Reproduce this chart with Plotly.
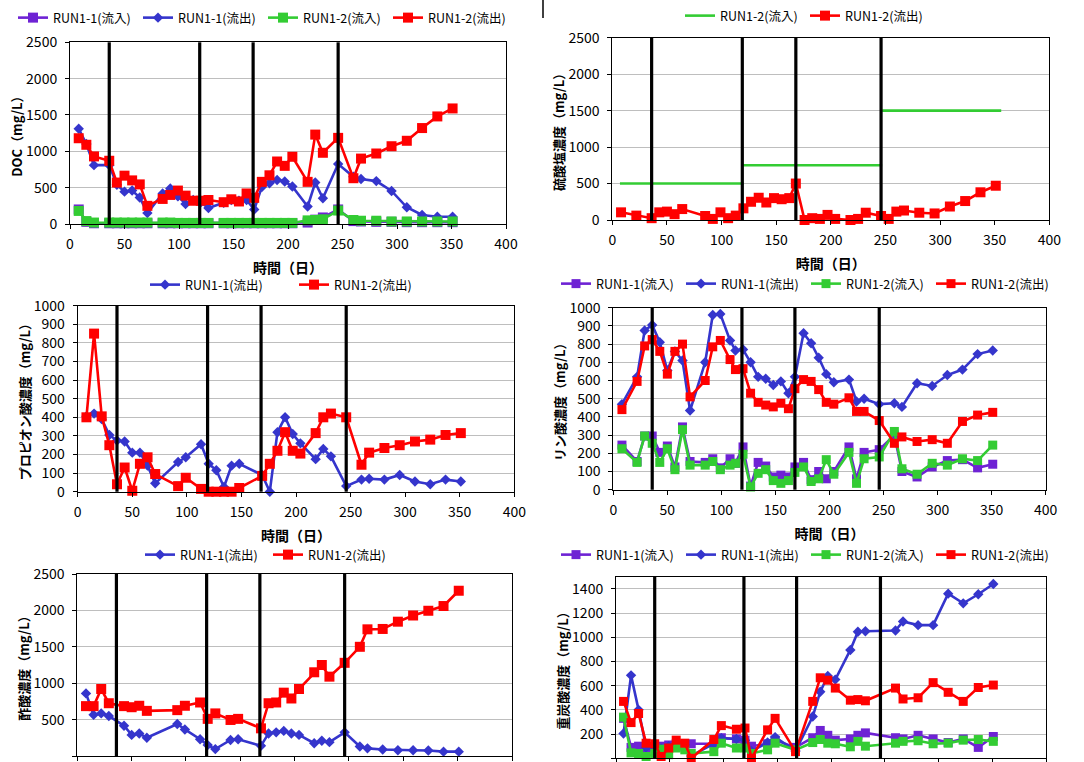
import plotly.graph_objects as go

W, H = 1084, 762
FONT = "Noto Sans CJK JP"

# ---------------- data ----------------
# Panel 1: DOC
doc_days = [8, 15, 22, 36, 43, 50, 57, 64, 71, 85, 92, 99, 106, 113, 120, 127, 141, 148, 155, 162,
            169, 176, 183, 190, 197, 204, 218, 225, 232, 246, 260, 267, 281, 295, 309, 323, 337, 351]
doc_r11_in = [200, 30, 10, 10, 10, 10, 10, 10, 10, 10, 10, 10, 10, 10, 10, 10, 10, 10, 10, 10,
              10, 10, 10, 10, 10, 10, 20, 60, 90, 200, 40, 35, 30, 30, 25, 25, 25, 25]
doc_r11_out = [1310, 1100, 810, 810, 540, 445, 460, 365, 150, 420, 490, 380, 275, 330, 300, 220, 290, 330, 320, 330,
               200, 510, 560, 605, 585, 515, 240, 570, 355, 825, 650, 620, 590, 455, 230, 125, 100, 100]
doc_r12_in = [180, 40, 20, 20, 20, 20, 20, 20, 20, 20, 20, 15, 15, 15, 15, 15, 15, 15, 15, 15,
              15, 15, 15, 15, 15, 15, 50, 55, 65, 185, 55, 45, 45, 35, 35, 35, 35, 35]
doc_r12_out = [1180, 1090, 930, 870, 570, 665, 600, 545, 250, 345, 400, 460, 390, 320, 320, 330, 300, 340, 310, 420,
               360, 580, 670, 860, 800, 925, 580, 1230, 980, 1185, 630, 900, 970, 1070, 1145, 1320, 1480, 1590]

# Panel 2: sulfate
sul_in_days = [7, 120, None, 119, 247, None, 247, 356]
sul_in_vals = [500, 500, None, 750, 750, None, 1500, 1500]
sul_days = [8, 22, 36, 43, 50, 57, 64, 85, 92, 99, 106, 113, 120, 127, 134, 141, 148, 155, 162, 168,
            176, 183, 190, 197, 204, 218, 225, 232, 246, 253, 260, 267, 281, 295, 309, 323, 337, 351]
sul_r12_out = [105, 60, 25, 105, 115, 80, 150, 55, 15, 105, 25, 60, 160, 250, 305, 240, 300, 285, 300, 500,
               0, 25, 15, 70, 15, 0, 15, 100, 55, 15, 115, 130, 100, 90, 185, 260, 380, 470]

# Panel 3: propionic acid
pro_days = [8, 15, 22, 29, 36, 43, 50, 57, 64, 71, 92, 99, 113, 120, 127, 134, 141, 148, 169, 176,
            183, 190, 197, 204, 218, 225, 232, 246, 260, 267, 281, 295, 309, 323, 337, 351]
pro_r11_out = [405, 420, 390, 305, 275, 270, 210, 210, 140, 45, 160, 185, 255, 150, 115, 25, 140, 150, 90, 0,
               320, 400, 310, 260, 175, 230, 190, 30, 65, 70, 65, 90, 55, 40, 65, 55]
pro_r12_out = [400, 850, 405, 250, 40, 130, 5, 150, 185, 95, 30, 75, 15, 0, 0, 0, 0, 20, 85, 150,
               220, 320, 220, 205, 315, 400, 420, 400, 145, 210, 235, 250, 270, 280, 305, 315]

# Panel 4: phosphate
pho_days = [8, 22, 29, 36, 43, 50, 57, 64, 71, 85, 92, 99, 108, 113, 120, 127, 134, 141, 148, 155,
            162, 168, 176, 183, 190, 197, 204, 218, 225, 232, 246, 260, 267, 281, 295, 309, 323, 337, 351]
pho_r11_in = [245, 155, 295, 295, 205, 240, 125, 345, 155, 150, 170, 120, 170, 145, 235, 20, 150, 130, 70, 80,
              70, 125, 150, 55, 100, 60, 100, 235, 60, 205, 220, 300, 100, 70, 125, 160, 165, 120, 140]
pho_r11_out = [470, 620, 875, 905, 810, 655, 760, 710, 435, 700, 960, 965, 820, 765, 770, 700, 620, 610, 575, 595,
               530, 620, 860, 805, 725, 635, 590, 605, 485, 500, 470, 475, 455, 585, 570, 630, 660, 745, 765]
pho_r12_in = [225, 150, 295, 255, 150, 225, 110, 330, 135, 135, 155, 110, 135, 145, 195, 15, 90, 110, 50, 35,
              50, 95, 125, 45, 60, 165, 85, 205, 35, 170, 180, 320, 115, 85, 145, 135, 170, 160, 245]
pho_r12_out = [440, 595, 790, 825, 760, 635, 760, 800, 510, 600, 785, 820, 715, 660, 665, 530, 480, 465, 455, 475,
               445, 555, 605, 595, 550, 480, 470, 505, 430, 430, 380, 255, 290, 265, 275, 255, 375, 410, 425]

# Panel 5: acetic acid
ace_days = [8, 15, 22, 29, 43, 50, 57, 64, 92, 99, 113, 120, 127, 141, 148, 169, 176, 183, 190, 197,
            204, 218, 225, 232, 246, 260, 267, 281, 295, 309, 323, 337, 351]
ace_r11_out = [860, 565, 585, 550, 415, 290, 310, 250, 440, 365, 230, 150, 95, 220, 230, 140, 310, 325, 345, 310,
               290, 175, 210, 190, 325, 130, 105, 90, 80, 80, 75, 60, 60]
ace_r12_out = [685, 685, 920, 725, 685, 670, 690, 620, 630, 690, 735, 510, 585, 495, 510, 380, 725, 735, 870, 790,
               920, 1150, 1250, 1090, 1280, 1500, 1740, 1745, 1845, 1930, 1995, 2060, 2270]

# Panel 6: bicarbonate
bic_days = [7, 14, 21, 28, 36, 42, 49, 56, 64, 70, 91, 98, 112, 120, 126, 141, 148, 167, 183, 190,
            197, 204, 218, 225, 232, 260, 267, 281, 295, 309, 323, 337, 351]
bic_r11_in = [330, 90, 100, 80, 90, 100, 110, 120, 100, 120, 120, 170, 160, 150, 100, 120, 150, 90, 170, 230,
              190, 150, 160, 190, 210, 170, 160, 190, 160, 130, 160, 90, 180]
bic_r11_out = [205, 685, 400, 90, 70, 80, 100, 120, 110, 20, 120, 165, 160, 150, 60, 130, 175, 60, 345, 550,
               680, 650, 895, 1045, 1050, 1055, 1130, 1100, 1100, 1360, 1280, 1355, 1440]
bic_r12_in = [340, 45, 40, 15, 40, 75, 30, 85, 70, 40, 55, 125, 85, 85, 40, 70, 125, 70, 130, 155,
              125, 120, 95, 140, 100, 125, 140, 145, 120, 125, 150, 155, 140]
bic_r12_out = [470, 295, 370, 125, 120, 15, 85, 150, 125, 0, 155, 270, 240, 250, 0, 235, 330, 55, 470, 665,
               645, 580, 480, 485, 475, 580, 490, 500, 625, 545, 470, 585, 605]

event_days = [36, 119, 168, 246]

N11_IN, N11_OUT, N12_IN, N12_OUT = "RUN1-1(流入)", "RUN1-1(流出)", "RUN1-2(流入)", "RUN1-2(流出)"
X_TITLE = "時間（日）"
PURPLE, BLUE, GREEN, RED = "#6E22D4", "#3535CC", "#33CC33", "#FF0000"

# ---------------- layout geometry (pixels) ----------------
panels = [
    dict(px=(70, 506), py=(42.3, 224), ymax=2500, dy=500, yt="DOC（mg/L）", leg=(263, 18), ew=80, xlab=True),
    dict(px=(612.3, 1049.3), py=(37.7, 220), ymax=2500, dy=500, yt="硫酸塩濃度（mg/L）", leg=(805, 16), ew=80, xlab=True),
    dict(px=(77.7, 514.3), py=(305.7, 491.7), ymax=1000, dy=100, yt="プロピオン酸濃度（mg/L）", leg=(294, 285), ew=104, xlab=True),
    dict(px=(613.3, 1045.7), py=(307.7, 489.7), ymax=1000, dy=100, yt="リン酸濃度（mg/L）", leg=(806, 284), ew=80, xlab=True),
    dict(px=(77.3, 512), py=(574, 756), ymax=2500, dy=500, yt="酢酸濃度（mg/L）", leg=(268, 555), ew=83, xlab=False),
    dict(px=(616, 1046), py=(576.7, 758.3), ymax=1500, dy=200, yt="重炭酸濃度（mg/L）", leg=(806, 555), ew=80, xlab=False),
]

fig = go.Figure()


def ax(i, letter):
    return letter if i == 1 else f"{letter}{i}"


def add(i, x, y, name, color, symbol=None, size=9, lines_only=False):
    fig.add_trace(go.Scatter(
        x=x, y=y, name=name,
        mode="lines" if lines_only else "lines+markers",
        line=dict(color=color, width=2.6),
        marker=dict(symbol=symbol, size=size, color=color),
        xaxis=ax(i, "x"), yaxis=ax(i, "y"),
        legend="legend" if i == 1 else f"legend{i}",
        cliponaxis=False, connectgaps=False,
    ))


# panel 1
add(1, doc_days, doc_r11_in, N11_IN, PURPLE, "square", 10)
add(1, doc_days, doc_r11_out, N11_OUT, BLUE, "diamond", 8)
add(1, doc_days, doc_r12_in, N12_IN, GREEN, "square", 10)
add(1, doc_days, doc_r12_out, N12_OUT, RED, "square", 10)
# panel 2
add(2, sul_in_days, sul_in_vals, N12_IN, GREEN, lines_only=True)
add(2, sul_days, sul_r12_out, N12_OUT, RED, "square", 10)
# panel 3
add(3, pro_days, pro_r11_out, N11_OUT, BLUE, "diamond", 8)
add(3, pro_days, pro_r12_out, N12_OUT, RED, "square", 10)
# panel 4
add(4, pho_days, pho_r11_in, N11_IN, PURPLE, "square", 9)
add(4, pho_days, pho_r11_out, N11_OUT, BLUE, "diamond", 8)
add(4, pho_days, pho_r12_in, N12_IN, GREEN, "square", 9)
add(4, pho_days, pho_r12_out, N12_OUT, RED, "square", 9)
# panel 5
add(5, ace_days, ace_r11_out, N11_OUT, BLUE, "diamond", 8)
add(5, ace_days, ace_r12_out, N12_OUT, RED, "square", 10)
# panel 6
add(6, bic_days, bic_r11_in, N11_IN, PURPLE, "square", 9)
add(6, bic_days, bic_r11_out, N11_OUT, BLUE, "diamond", 8)
add(6, bic_days, bic_r12_in, N12_IN, GREEN, "square", 9)
add(6, bic_days, bic_r12_out, N12_OUT, RED, "square", 9)

layout = dict(
    width=W, height=H, margin=dict(l=0, r=0, t=0, b=0),
    paper_bgcolor="white", plot_bgcolor="white",
    font=dict(family=FONT, size=13, color="black"),
    showlegend=True, template="none",
)
shapes = []
for k, p in enumerate(panels, start=1):
    xa = "xaxis" if k == 1 else f"xaxis{k}"
    ya = "yaxis" if k == 1 else f"yaxis{k}"
    layout[xa] = dict(
        domain=[p["px"][0] / W, p["px"][1] / W], anchor=ax(k, "y"),
        range=[0, 400], dtick=50, tick0=0, showgrid=False, zeroline=False,
        showline=True, linecolor="black", linewidth=1, mirror=True,
        ticks="outside", ticklen=4, tickcolor="black", automargin=False,
        showticklabels=p["xlab"], ticklabelstandoff=3,
        tickfont=dict(family=FONT, size=14),
        title=dict(text=X_TITLE if p["xlab"] else "",
                   font=dict(family=FONT, size=14, weight="bold"), standoff=11),
    )
    layout[ya] = dict(
        domain=[1 - p["py"][1] / H, 1 - p["py"][0] / H], anchor=ax(k, "x"),
        range=[0, p["ymax"]], dtick=p["dy"], tick0=0,
        showgrid=True, gridcolor="#BEBEBE", gridwidth=1, zeroline=False,
        showline=True, linecolor="black", linewidth=1, mirror=True,
        ticks="outside", ticklen=4, tickcolor="black", automargin=False,
        ticklabelstandoff=5,
        tickfont=dict(family=FONT, size=14),
        title=dict(text=p["yt"], font=dict(family=FONT, size=13, weight="bold"), standoff=0),
    )
    lg = "legend" if k == 1 else f"legend{k}"
    layout[lg] = dict(
        orientation="h", x=p["leg"][0] / W, y=1 - p["leg"][1] / H,
        xanchor="center", yanchor="middle", bgcolor="rgba(0,0,0,0)",
        font=dict(family=FONT, size=12.5), itemwidth=30, entrywidth=p["ew"],
        traceorder="normal",
    )
    for d in event_days:
        shapes.append(dict(type="line", xref=ax(k, "x"), yref=f"{ax(k, 'y')} domain",
                           x0=d, x1=d, y0=0, y1=1, line=dict(color="black", width=3.2), layer="above"))

shapes.append(dict(type="line", xref="paper", yref="paper", x0=543 / W, x1=543 / W,
                   y0=1, y1=1 - 18 / H, line=dict(color="black", width=1.5)))
layout["shapes"] = shapes
fig.update_layout(**layout)

fig.write_html("out.html", config={"displayModeBar": False},
               post_script="document.body.style.margin='0';")
